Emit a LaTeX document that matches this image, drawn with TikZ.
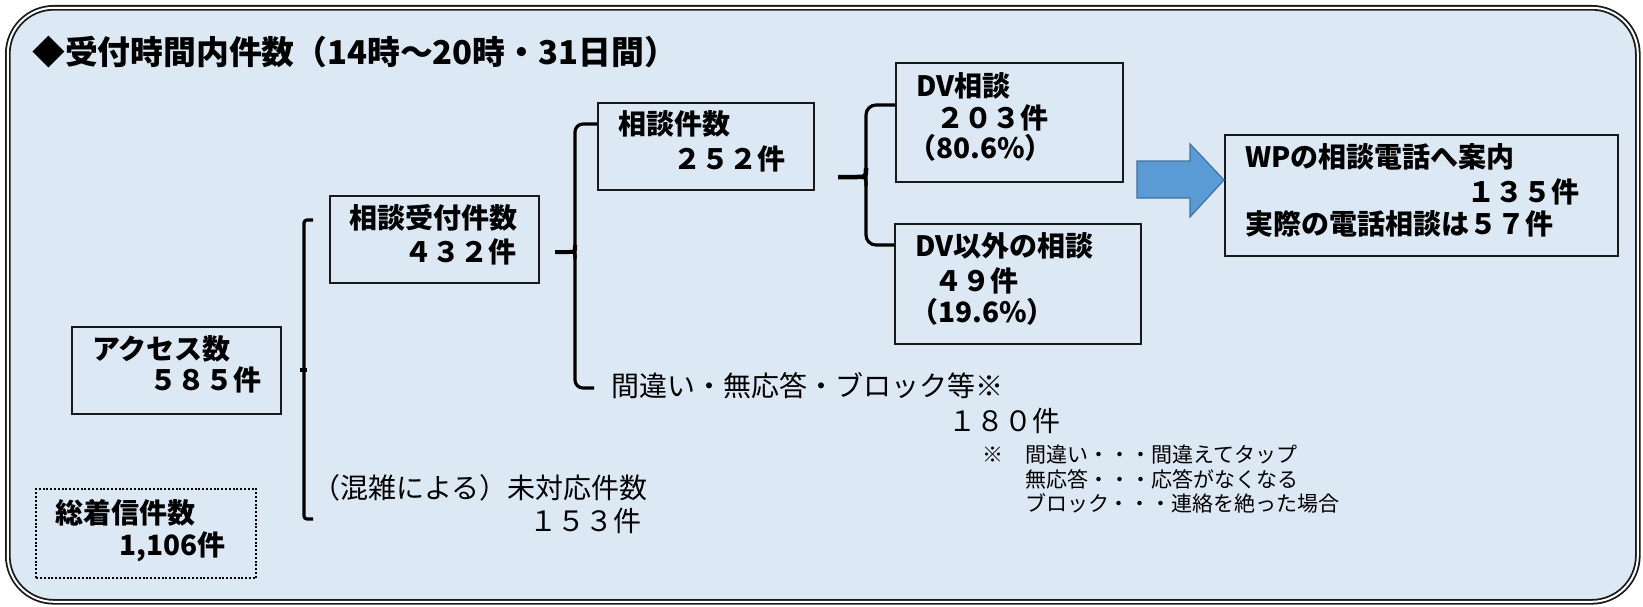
\documentclass[tikz,border=0pt]{standalone}
\usepackage{fontspec}
\setmainfont{Noto Sans CJK JP}
\usetikzlibrary{calc}
\definecolor{bgblue}{RGB}{221,232,245}
\definecolor{arrblue}{RGB}{91,155,213}
\definecolor{arrline}{RGB}{65,113,156}
\tikzset{
  box/.style={draw=black!90, line width=1.7pt, inner sep=0pt, anchor=north west},
  dotbox/.style={draw=black, line width=2.2pt, dash pattern=on 2pt off 1.8pt, inner sep=0pt, anchor=north west},
  tb/.style={font=\fontsize{28pt}{34pt}\selectfont\bfseries, inner sep=0pt},
  tt/.style={font=\fontsize{32.8pt}{38pt}\selectfont\bfseries, inner sep=0pt},
  tr/.style={font=\fontsize{28pt}{34pt}\selectfont, inner sep=0pt},
  tn/.style={font=\fontsize{21pt}{26pt}\selectfont, inner sep=0pt},
  brk/.style={line width=3.2pt, draw=black},
  frame/.style={draw=black!90, line width=1.8pt, double=white, double distance=2pt, fill=bgblue, rounded corners=46pt},
}
\begin{document}
\begin{tikzpicture}[x=1pt,y=-1pt]
\useasboundingbox (0,0) rectangle (1643,607);
\path[frame] (7.8,7.8) rectangle (1637.8,601.8);

% title
\node[tt, anchor=west] (title) at (32,52) {◆受付時間内件数（14時～20時・31日間）};

% boxes
\node[box, minimum width=209pt, minimum height=87pt] (access) at (71,326) {};
\node[box, minimum width=209pt, minimum height=87pt] (uke) at (329,195) {};
\node[box, minimum width=216pt, minimum height=87pt] (soudan) at (597,102) {};
\node[box, minimum width=227pt, minimum height=119pt] (dv) at (895,62) {};
\node[box, minimum width=246pt, minimum height=120pt] (nondv) at (894,223) {};
\node[box, minimum width=393pt, minimum height=121pt] (wp) at (1224,134) {};
\node[dotbox, minimum width=220pt, minimum height=89pt] (total) at (35,488) {};

% box texts
\node[tb, anchor=west] (accessA) at (92,349) {アクセス数};
\node[tb, anchor=east] (accessB) at (262,380) {５８５件};
\node[tb, anchor=west] (ukeA) at (349,218) {相談受付件数};
\node[tb, anchor=east] (ukeB) at (517,252) {４３２件};
\node[tb, anchor=west] (soudanA) at (618,124) {相談件数};
\node[tb, anchor=east] (soudanB) at (786,159) {２５２件};
\node[tb, anchor=west] (dvA) at (916,86) {DV相談};
\node[tb, anchor=west] (dvB) at (936,118) {２０３件};
\node[tb, anchor=west] (dvC) at (908,148) {（80.6\%）};
\node[tb, anchor=west] (nondvA) at (915,246) {DV以外の相談};
\node[tb, anchor=west] (nondvB) at (934,281) {４９件};
\node[tb, anchor=west] (nondvC) at (910,312) {（19.6\%）};
\node[tb, anchor=west] (wpA) at (1245,157) {WPの相談電話へ案内};
\node[tb, anchor=east] (wpB) at (1580,192) {１３５件};
\node[tb, anchor=west] (wpC) at (1245,224) {実際の電話相談は５７件};
\node[tb, anchor=west] (totalA) at (55,513) {総着信件数};
\node[tb, anchor=east] (totalB) at (226,547) {1,106件};

% free texts
\node[tr, anchor=west] (err) at (611,386) {間違い・無応答・ブロック等※};
\node[tr, anchor=west] (errN) at (948,421) {１８０件};
\node[tn, anchor=west] (noteM) at (982,455) {※};
\node[tn, anchor=west] (note1) at (1025,455) {間違い・・・間違えてタップ};
\node[tn, anchor=west] (note2) at (1025,479) {無応答・・・応答がなくなる};
\node[tn, anchor=west] (note3) at (1025,503) {ブロック・・・連絡を絶った場合};
\node[tr, anchor=west] (busy) at (312,488) {（混雑による）未対応件数};
\node[tr, anchor=west] (busyN) at (529,521) {１５３件};

% bracket 1
\coordinate (b1a) at (313,220);
\coordinate (b1b) at (313,519);
\coordinate (b1n) at ($(access.east)+(18,0)$);
\draw[brk, rounded corners=3pt] (b1a) -- ++(-9,0) |- (b1b);
\draw[brk, line width=4pt] (b1n) -- ++(7,0);

% bracket 2
\coordinate (b2a) at (soudan.west |- 0,124);
\coordinate (b2b) at (594,388);
\coordinate (b2n) at (555,252);
\draw[brk, rounded corners=8pt] (b2a) -- (575,124) -- (575,388) -- (b2b);
\draw[brk, line width=4pt] (b2n) -- (569,252) .. controls (575,252) .. (575,245);
\draw[brk] (569,252) .. controls (575,252) .. (575,259);

% bracket 3
\coordinate (b3a) at (dv.west |- 0,105);
\coordinate (b3b) at (nondv.west |- 0,245);
\coordinate (b3n) at (838,177);
\draw[brk, rounded corners=10pt] (b3a) -- (866,105) -- (866,245) -- (b3b);
\draw[brk, line width=4.5pt] (b3n) -- (857,177) .. controls (866,177) .. (866,168);
\draw[brk] (857,177) .. controls (866,177) .. (866,186);

% block arrow
\coordinate (arrT) at (wp.west |- 0,180);
\draw[arrline, line width=1.2pt, fill=arrblue, line join=miter]
  (1137,161) -- (1190,161) -- (1190,144) -- (arrT) -- (1190,217) -- (1190,198) -- (1137,198) -- cycle;
\end{tikzpicture}
\end{document}
